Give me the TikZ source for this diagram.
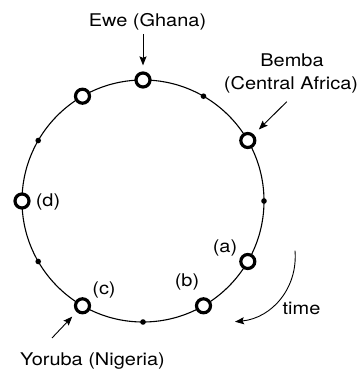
\documentclass[tikz,border=0pt]{standalone}
\usepackage{fontspec}
\setmainfont{TeX Gyre Heros}
\usepackage{graphicx}
\usepackage{tikz}
\usetikzlibrary{positioning, arrows.meta, calc}

\newcommand{\widetext}[1]{\scalebox{1.14}[1]{#1}}

\begin{document}
\begin{tikzpicture}[
    x=1pt, y=1pt,
    ring/.style={draw, circle, line width=3.2pt, minimum size=14pt, inner sep=0pt, fill=white},
    beat/.style={circle, fill, minimum size=5.6pt, inner sep=0pt},
    lbl/.style={anchor=base, font=\fontsize{17.5}{20}\selectfont, inner sep=0pt},
    pointer/.style={-{Stealth[length=9pt, width=7pt, inset=1.5pt]}, line width=0.9pt}
]
    \useasboundingbox (0,0) rectangle (357,373);

    % Cycle of twelve pulses
    \coordinate (c) at (143,172);
    \draw[line width=1.1pt] (c) circle (121);

    \node[ring] (ewe)    at ($(c)+(90:121)$) {};
    \node[beat] (d60)    at ($(c)+(60:121)$) {};
    \node[ring] (bemba)  at ($(c)+(30:121)$) {};
    \node[beat] (d0)     at ($(c)+(0:121)$) {};
    \node[ring] (pa)     at ($(c)+(-30:121)$) {};
    \node[ring] (pb)     at ($(c)+(-60:121)$) {};
    \node[beat] (d270)   at ($(c)+(-90:121)$) {};
    \node[ring] (yoruba) at ($(c)+(-120:121)$) {};
    \node[beat] (d210)   at ($(c)+(-150:121)$) {};
    \node[ring] (pd)     at ($(c)+(180:121)$) {};
    \node[beat] (d150)   at ($(c)+(150:121)$) {};
    \node[ring] (p120)   at ($(c)+(120:121)$) {};

    % Labels
    \node[lbl] (ewetxt)   at (147.5,346) {\widetext{Ewe (Ghana)}};
    \node[lbl] (bembatxt) at (292,306.3) {\widetext{Bemba}};
    \node[lbl] (cafrtxt)  at (291,283.7) {\widetext{(Central Africa)}};
    \node[lbl] (yorubatxt) at (92.5,7.3) {\widetext{Yoruba (Nigeria)}};
    \node[lbl] (atxt) at (225,121) {\widetext{(a)}};
    \node[lbl] (btxt) at (187,86) {\widetext{(b)}};
    \node[lbl] (ctxt) at (104,78) {\widetext{(c)}};
    \node[lbl] (dtxt) at (48,166) {\widetext{(d)}};
    \node[lbl] (timetxt) at (301.5,59) {\widetext{time}};

    % Pointers
    \draw[pointer, shorten >=6pt] ($(ewetxt.base -| ewe)+(0,-7)$) -- (ewe);
    \draw[pointer, shorten >=7pt] ($(cafrtxt.base)+(-4.3,-12.4)$) -- (bemba);
    \draw[pointer, shorten >=6.3pt] ($(yorubatxt.base)+(-40.5,27.7)$) -- (yoruba);

    % Direction of time
    \coordinate (tstart) at (295,122.3);
    \coordinate (tend) at (235,51.3);
    \draw[pointer] (tstart) .. controls (298,85) and (272,55) .. (tend);
\end{tikzpicture}
\end{document}
